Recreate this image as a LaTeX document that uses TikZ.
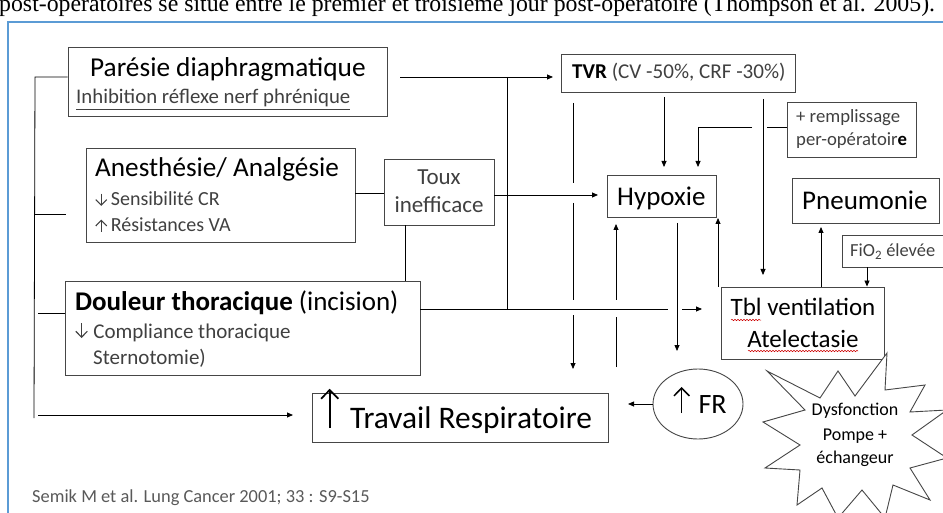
\documentclass[tikz,border=0pt]{standalone}
\usepackage{fontspec}
\setmainfont{Carlito}
\newfontfamily\timesf{Liberation Serif}
\usetikzlibrary{arrows.meta,decorations.pathmorphing,shapes.geometric}
\newcommand\fsz[1]{\fontsize{#1}{#1}\selectfont}
% thin text arrows: #1 = height in em
\newcommand\UpA[1]{\tikz[x=1em,y=1em,baseline=0pt]\draw[line width=0.055em,-{Straight Barb[length=0.28em,width=0.55em]}] (0,0) -- (0,#1);}
\newcommand\DnA[1]{\tikz[x=1em,y=1em,baseline=0pt]\draw[line width=0.055em,-{Straight Barb[length=0.28em,width=0.55em]}] (0,#1) -- (0,0);}
\definecolor{framebl}{RGB}{91,155,213}
\definecolor{boxgray}{RGB}{70,70,70}
\definecolor{dgray}{RGB}{64,64,64}
\definecolor{cgray}{RGB}{89,89,89}
\begin{document}
\begin{tikzpicture}[x=1pt,y=-1pt,
  box/.style={draw=boxgray, line width=0.9pt, rectangle, inner sep=0pt},
  ln/.style={draw=black, line width=0.8pt},
  arr/.style={ln, -{Triangle[length=6pt,width=5pt]}},
  txt/.style={inner sep=0pt, anchor=base west},
  ctxt/.style={inner sep=0pt, anchor=base},
  squig/.style={draw=red!80!black, line width=0.5pt, decorate,
    decoration={snake, segment length=3pt, amplitude=0.7pt}},
  ]
\useasboundingbox (0,0) rectangle (943,513);
\begin{scope}
\clip (0,0) rectangle (943,513);
% caption line (cut by the frame)
\node[txt, font=\timesf\fsz{23.8}] (cap) at (-1,12)
  {post-opératoires se situe entre le premier et troisième jour post-opératoire (Thompson et al. 2005).};
% frame
\draw[draw=framebl, line width=2pt] (8,516) -- (8,22) -- (946,22);

% boxes
\node[box, minimum width=319pt, minimum height=69pt] (pare) at (227.5,81.5) {};
\node[box, minimum width=269pt, minimum height=94pt] (anes) at (220.5,195) {};
\node[box, minimum width=110pt, minimum height=66pt] (toux) at (439,192) {};
\node[box, minimum width=355pt, minimum height=94pt] (doul) at (242.5,328) {};
\node[box, minimum width=234pt, minimum height=38pt] (tvr) at (678,73) {};
\node[box, minimum width=109pt, minimum height=42pt] (hyp) at (661.5,196) {};
\node[box, minimum width=129pt, minimum height=55pt] (remp) at (851.5,129.5) {};
\node[box, minimum width=147pt, minimum height=45pt] (pneu) at (865.5,200.5) {};
\node[box, minimum width=106pt, minimum height=32pt] (fio) at (895,251) {};
\node[box, minimum width=163pt, minimum height=72pt] (tbl) at (802.5,323) {};
\node[box, minimum width=296pt, minimum height=49pt] (trav) at (460,417.5) {};
\node[draw=boxgray, line width=0.9pt, ellipse, minimum width=90pt, minimum height=70pt, inner sep=0pt] (fr) at (698,404) {};

% star
\draw[draw=boxgray, line width=0.9pt, fill=white] (767,371) -- (820,398) -- (838,371) -- (855,396) -- (887,353)
  -- (885,390) -- (925,385) -- (910,412) -- (947,410) -- (912,435) -- (947,458) -- (910,468)
  -- (930,500) -- (893,485) -- (885,518) -- (862,490) -- (838,518) -- (822,488) -- (797,505)
  -- (800,470) -- (765,468) -- (800,445) -- (763,422) -- (805,410) -- cycle;
\node[coordinate] (star) at (855,440) {};

% texts
\node[txt, font=\fsz{27.3}] (tpare) at (90,77) {Parésie diaphragmatique};
\node[txt, font=\fsz{20.8}, text=dgray] (tinhi) at (76,104) {\underline{Inhibition réflexe nerf phrénique}};
\node[txt, font=\fsz{27.2}] (tanes) at (95,177) {Anesthésie/ Analgésie};
\node[txt, font=\fsz{20}, text=dgray] (tsens) at (95,206) {\DnA{0.62}\hspace{0.18em}Sensibilité CR};
\node[txt, font=\fsz{20}, text=dgray] (tres) at (95,232) {\UpA{0.62}\hspace{0.18em}Résistances VA};
\node[ctxt, font=\fsz{23}, text=dgray] (ttoux1) at (439,185) {Toux};
\node[ctxt, font=\fsz{23}, text=dgray] (ttoux2) at (439,213) {inefficace};
\node[txt, font=\fsz{27}] (tdoul) at (75,311) {\textbf{Douleur thoracique} (incision)};
\node[txt, font=\fsz{21}, text=dgray] (tcomp) at (75,338) {\DnA{0.7}\hspace{0.26em}Compliance thoracique};
\node[txt, font=\fsz{21}, text=dgray] (tster) at (93,364) {Sternotomie)};
\node[txt, font=\fsz{21.1}] (ttvr) at (572,79) {\textbf{TVR} {\color{dgray}(CV -50\%, CRF -30\%)}};
\node[txt, font=\fsz{27}] (thyp) at (617,206) {Hypoxie};
\node[txt, font=\fsz{18.7}, text=dgray] (trem1) at (796,123) {+ remplissage};
\node[txt, font=\fsz{18.7}, text=dgray] (trem2) at (796,146) {per-opératoir{\color{black}\textbf{e}}};
\node[txt, font=\fsz{27}] (tpneu) at (802,210) {Pneumonie};
\node[txt, font=\fsz{18.4}, text=dgray] (tfio) at (850,257) {FiO\textsubscript{2} élevée};
\node[ctxt, font=\fsz{25}] (ttbl1) at (803,316) {Tbl ventilation};
\node[ctxt, font=\fsz{25}] (ttbl2) at (803,347) {Atelectasie};
\node[txt, font=\fsz{28}] (tfr) at (673,413) {\UpA{0.93}\hspace{0.3em}FR};
\node[txt, font=\fsz{31.4}] (ttrav) at (320,428) {\UpA{1.25}\hspace{0.35em}Travail Respiratoire};
\node[ctxt, font=\fsz{18}] (ts1) at (855,415) {Dysfonction};
\node[ctxt, font=\fsz{18}] (ts2) at (855,440) {Pompe +};
\node[ctxt, font=\fsz{18}] (ts3) at (855,463) {échangeur};
\node[txt, font=\fsz{18.4}, text=cgray] (tcite) at (32,502) {Semik M et al. Lung Cancer 2001; 33 : S9-S15};

% spell-check squiggles
\draw[squig] (731,320) -- (761,320);
\draw[squig] (748,351) -- (858,351);

% left bracket
\coordinate (bt) at (35,77);
\coordinate (bb) at (34,418);
\draw[ln] (pare.west |- bt) -- (bt) -- (bb);
\coordinate (la) at (35,214);
\coordinate (lae) at (66,214);
\draw[ln] (la) -- (lae);
\coordinate (ld) at (38,313);
\draw[ln] (ld) -- (doul.west |- ld);
\coordinate (lt) at (38,415);
\coordinate (ltt) at (293,415);
\draw[arr] (lt) -- (ltt);

% anesthesie -> toux -> douleur
\draw[ln] (anes.east |- 0,193) -- (toux.west |- 0,193);
\draw[ln] (405,0 |- toux.south) -- (405,0 |- doul.north);
% toux -> hypoxie
\coordinate (th) at (598,195);
\draw[arr] (toux.east |- th) -- (th);
% paresie -> TVR
\coordinate (p1) at (400,77);
\coordinate (p2) at (553,77);
\draw[arr] (p1) -- (p2);
\coordinate (pv) at (507,77);
\coordinate (dj) at (507,309);
\draw[ln] (pv) -- (dj);
% douleur horizontal
\coordinate (dh) at (668,309);
\draw[ln] (doul.east |- dh) -- (dh);
\coordinate (da1) at (682,309);
\coordinate (da2) at (702,309);
\draw[arr] (da1) -- (da2);
% TVR -> hypoxie
\draw[arr] (664,97) -- (664,167);
% remplissage -> hypoxie
\coordinate (r1) at (767,127);
\coordinate (r2) at (752,127);
\coordinate (r3) at (698,127);
\coordinate (r4) at (698,167);
\draw[ln] (remp.west |- r1) -- (r1);
\draw[arr] (r2) -- (r3) -- (r4);
% long vertical TVR -> Tbl
\draw[arr] (763,99) -- (763,275);
% vertical x=573
\draw[ln] (573,103) -- (573,183);
\draw[ln] (573,203) -- (573,300);
\draw[arr] (573,315) -- (573,369);
% vertical x=616 up to hypoxie
\draw[ln] (616,367) -- (616,317);
\draw[arr] (616,300) -- (616,224);
% hypoxie -> down
\draw[arr] (677,223) -- (677,351);
% Tbl corner -> hypoxie
\draw[arr] (718,287) -- (718,218);
% Tbl -> pneumonie
\draw[arr] (821,0 |- tbl.north) -- (821,227);
% FiO2 -> Tbl
\draw[arr] (867,0 |- fio.south) -- (867,0 |- tbl.north);
% FR -> travail
\draw[arr] (fr.west) -- (628,0 |- fr.west);
\end{scope}
\end{tikzpicture}
\end{document}
